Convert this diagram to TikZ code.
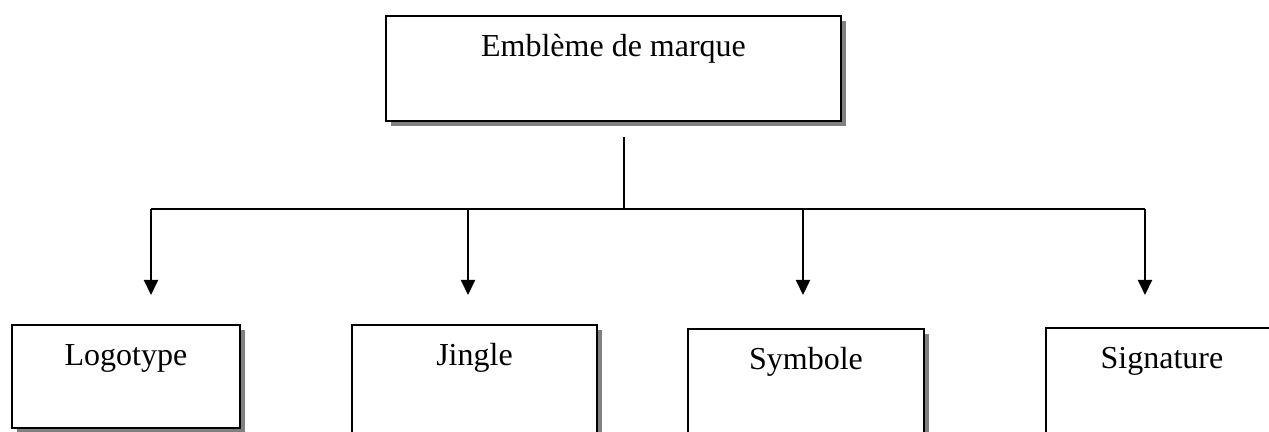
\documentclass[tikz,border=0pt]{standalone}
\usepackage{fontspec}
\setmainfont{Liberation Serif}
\usepackage{tikz}
\usetikzlibrary{shadows}
\usetikzlibrary{positioning, arrows.meta}

\begin{document}
\begin{tikzpicture}[x={(0.5pt,0)}, y={(0,-0.5pt)},
    box/.style = {draw, fill=white, line width=1pt, anchor=north west, inner xsep=0pt, inner ysep=4pt,
                  text height=16.5pt, text depth=28pt, font=\fontsize{16}{19}\selectfont,
                  drop shadow={shadow xshift=2.5pt, shadow yshift=-2.5pt, fill=black!50, opacity=1}},
    link/.style = {line width=1pt},
    arrow/.style = {line width=1pt, -{Triangle[width=7pt, length=7.5pt]}}]
                    \useasboundingbox (0,0) rectangle (1269,432);
                    \clip (0,0) rectangle (1269,432);

                    % Nodes
                    \node[box, minimum width=227.5pt] (embleme) at (385,15) {Emblème de marque};
                    \node[box, minimum width=114pt, text depth=27pt] (logo) at (11,324) {Logotype};
                    \node[box, minimum width=122.5pt, text depth=40pt] (jingle) at (351,324) {Jingle};
                    \node[box, minimum width=118pt, text depth=40pt] (symbole) at (687,328) {Symbole};
                    \node[box, minimum width=116pt, text depth=40pt] (signature) at (1045,327) {Signature};

                    % Points of the branching
                    \coordinate (stem) at (624,137);
                    \coordinate (hub) at (624,209);
                    \coordinate (b1) at (151,209);
                    \coordinate (b2) at (468,209);
                    \coordinate (b3) at (803,209);
                    \coordinate (b4) at (1145,209);
                    \coordinate (t1) at (151,295);
                    \coordinate (t2) at (468,295);
                    \coordinate (t3) at (803,295);
                    \coordinate (t4) at (1145,295);

                    % Lines
                    \draw[link] (stem) -- (hub);
                    \draw[link] (b1) -- (b4);
                    \draw[arrow] (b1) -- (t1);
                    \draw[arrow] (b2) -- (t2);
                    \draw[arrow] (b3) -- (t3);
                    \draw[arrow] (b4) -- (t4);
                \end{tikzpicture}
\end{document}
